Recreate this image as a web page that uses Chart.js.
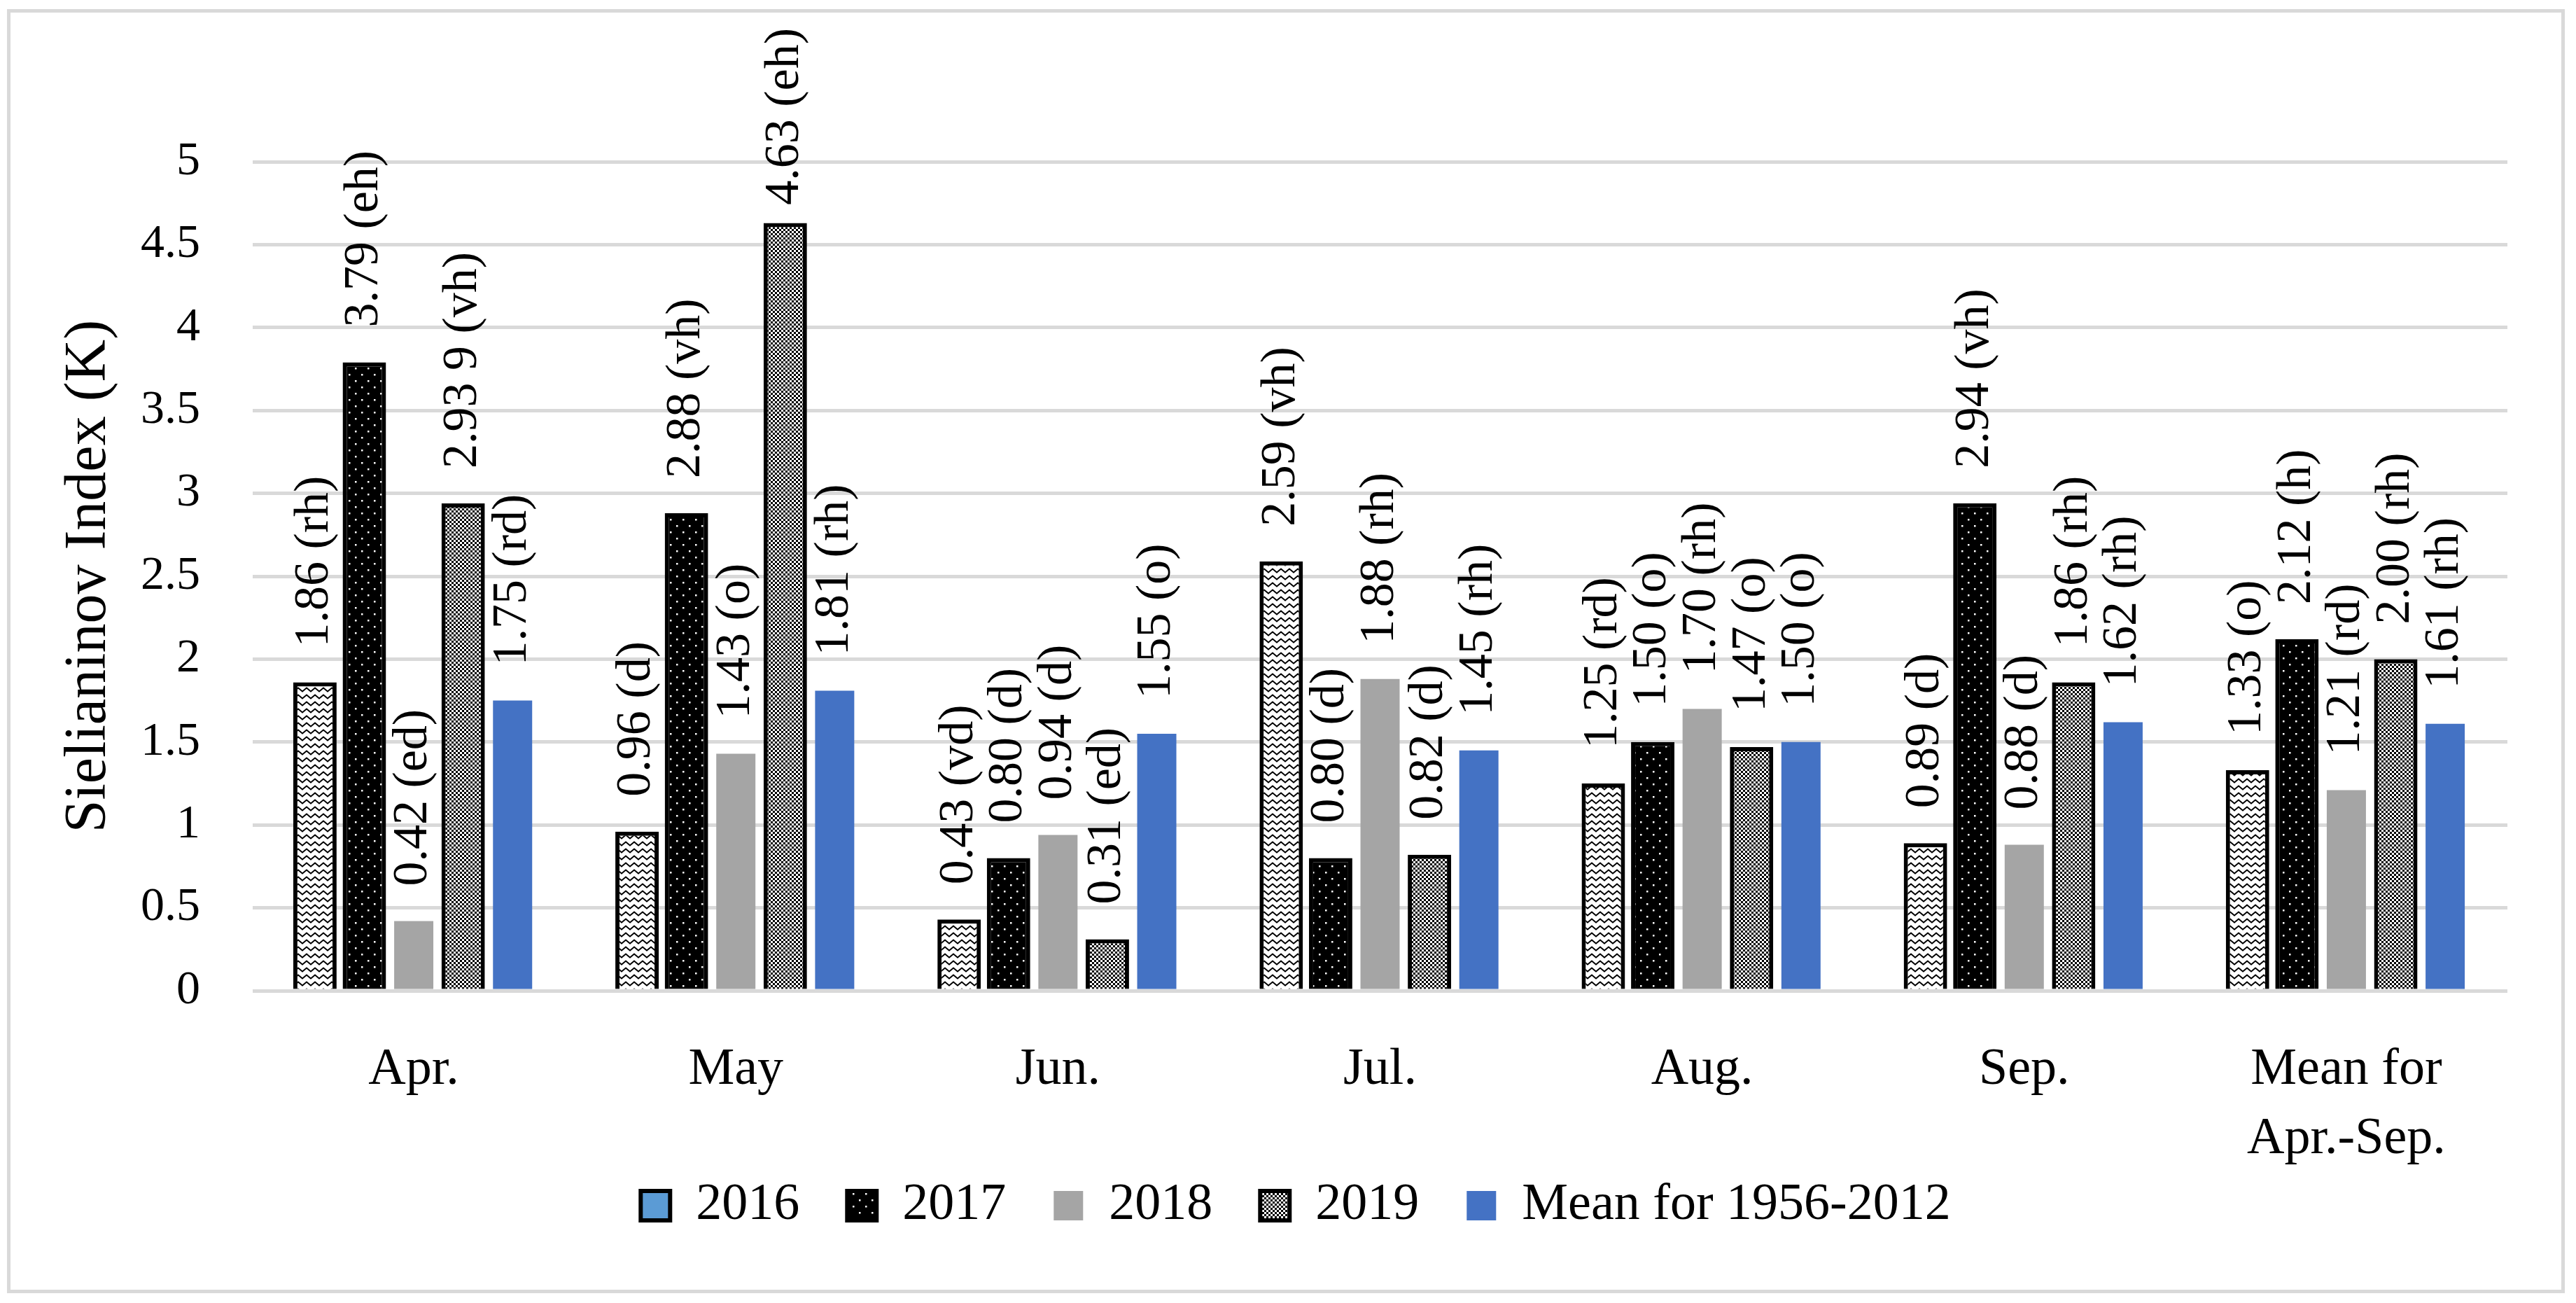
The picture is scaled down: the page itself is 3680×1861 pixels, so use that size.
<!DOCTYPE html>
<html>
<head>
<meta charset="utf-8">
<title>Sielianinov Index</title>
<script src="https://cdn.jsdelivr.net/npm/chart.js@4.4.1/dist/chart.umd.min.js"></script>
<style>
  html, body { margin: 0; padding: 0; background: #fff; }
  #wrap { position: relative; width: 3680px; height: 1861px; }
</style>
</head>
<body>
<div id="wrap"><canvas id="siChart"></canvas></div>
<script>
// Datos
const categories = ['Apr.', 'May', 'Jun.', 'Jul.', 'Aug.', 'Sep.', ['Mean for', 'Apr.-Sep.']];
const seriesNames = ['2016', '2017', '2018', '2019', 'Mean for 1956-2012'];

const values2016 = [1.86, 0.96, 0.43, 2.59, 1.25, 0.89, 1.33];
const values2017 = [3.79, 2.88, 0.80, 0.80, 1.50, 2.94, 2.12];
const values2018 = [0.42, 1.43, 0.94, 1.88, 1.70, 0.88, 1.21];
const values2019 = [2.939, 4.63, 0.31, 0.82, 1.47, 1.86, 2.00];
const valuesMean = [1.75, 1.81, 1.55, 1.45, 1.50, 1.62, 1.61];

const labels2016 = ['1.86 (rh)', '0.96 (d)', '0.43 (vd)', '2.59 (vh)', '1.25 (rd)', '0.89 (d)', '1.33 (o)'];
const labels2017 = ['3.79 (eh)', '2.88 (vh)', '0.80 (d)', '0.80 (d)', '1.50 (o)', '2.94 (vh)', '2.12 (h)'];
const labels2018 = ['0.42 (ed)', '1.43 (o)', '0.94 (d)', '1.88 (rh)', '1.70 (rh)', '0.88 (d)', '1.21 (rd)'];
const labels2019 = ['2.93 9 (vh)', '4.63 (eh)', '0.31 (ed)', '0.82 (d)', '1.47 (o)', '1.86 (rh)', '2.00 (rh)'];
const labelsMean = ['1.75 (rd)', '1.81 (rh)', '1.55 (o)', '1.45 (rh)', '1.50 (o)', '1.62 (rh)', '1.61 (rh)'];

const yTicks = [0, 0.5, 1, 1.5, 2, 2.5, 3, 3.5, 4, 4.5, 5];

const FONT = '"Liberation Serif", "Times New Roman", serif';

// Tramas tipo Excel
function makePattern(w, h, draw) {
    const c = document.createElement('canvas');
    c.width = w; c.height = h;
    const g = c.getContext('2d');
    draw(g, w, h);
    return g.createPattern(c, 'repeat');
}

const zigzag = makePattern(12, 10, (g, w, h) => {
    g.fillStyle = '#fff'; g.fillRect(0, 0, w, h);
    g.strokeStyle = '#000'; g.lineWidth = 2;
    g.beginPath();
    g.moveTo(-3, 5.5); g.lineTo(0, 7.5); g.lineTo(6, 2.5); g.lineTo(12, 7.5); g.lineTo(15, 5.5);
    g.stroke();
});

const dots = makePattern(18, 18, (g, w, h) => {
    g.fillStyle = '#000'; g.fillRect(0, 0, w, h);
    g.fillStyle = '#fff';
    g.fillRect(3, 3, 2.5, 2.5);
    g.fillRect(12, 12, 2.5, 2.5);
});

const checker = makePattern(6, 6, (g, w, h) => {
    g.fillStyle = '#fff'; g.fillRect(0, 0, w, h);
    g.fillStyle = '#000';
    g.fillRect(0, 0, 3, 3);
    g.fillRect(3, 3, 3, 3);
});

// Etiquetas de datos giradas; como en Excel, no salen por arriba del gráfico
const barLabels = {
    id: 'barLabels',
    afterDatasetsDraw(chart) {
        const ctx = chart.ctx;
        const minTop = 40;
        ctx.save();
        ctx.font = '70px ' + FONT;
        ctx.fillStyle = '#000';
        ctx.textAlign = 'left';
        ctx.textBaseline = 'middle';
        chart.data.datasets.forEach((ds, i) => {
            chart.getDatasetMeta(i).data.forEach((bar, j) => {
                const text = ds.valueLabels[j];
                const len = ctx.measureText(text).width;
                let start = bar.y - 50;
                if (start - len < minTop) start = minTop + len;
                ctx.save();
                ctx.translate(bar.x, start);
                ctx.rotate(-Math.PI / 2);
                ctx.fillText(text, 0, 0);
                ctx.restore();
            });
        });
        ctx.restore();
    }
};

// Marco exterior gris
const outerFrame = {
    id: 'outerFrame',
    beforeDraw(chart) {
        const ctx = chart.ctx;
        ctx.save();
        ctx.fillStyle = '#fff';
        ctx.fillRect(0, 0, chart.width, chart.height);
        ctx.strokeStyle = '#D9D9D9';
        ctx.lineWidth = 5;
        ctx.strokeRect(12.5, 15.5, 3649, 1829);
        ctx.restore();
    }
};

// deja sitio a la segunda línea de "Mean for Apr.-Sep." (las etiquetas se recortan a la caja del eje)
const labelRoom = {
    id: 'labelRoom',
    afterLayout(chart) {
        chart.scales.x.bottom += 90;
    }
};

const slotPct = 0.767;
const ctx = document.getElementById('siChart').getContext('2d');
const siChart = new Chart(ctx, {
    type: 'bar',
    data: {
        labels: categories,
        datasets: [
            { label: seriesNames[0], data: values2016, valueLabels: labels2016, backgroundColor: zigzag,
              borderColor: '#000', borderWidth: 6, barPercentage: 0.878, categoryPercentage: slotPct },
            { label: seriesNames[1], data: values2017, valueLabels: labels2017, backgroundColor: dots,
              borderColor: '#000', borderWidth: 6, barPercentage: 0.878, categoryPercentage: slotPct },
            { label: seriesNames[2], data: values2018, valueLabels: labels2018, backgroundColor: '#A5A5A5',
              borderWidth: 0, barPercentage: 0.793, categoryPercentage: slotPct },
            { label: seriesNames[3], data: values2019, valueLabels: labels2019, backgroundColor: checker,
              borderColor: '#000', borderWidth: 6, barPercentage: 0.878, categoryPercentage: slotPct },
            { label: seriesNames[4], data: valuesMean, valueLabels: labelsMean, backgroundColor: '#4472C4',
              borderWidth: 0, barPercentage: 0.793, categoryPercentage: slotPct }
        ]
    },
    options: {
        responsive: true,
        maintainAspectRatio: false,
        devicePixelRatio: 1,
        animation: false,
        layout: { padding: { left: 120, right: 98, top: 231, bottom: 92 } },
        scales: {
            x: {
                grid: { display: false },
                border: { display: false },
                ticks: {
                    color: '#000',
                    font: { family: FONT, size: 74, lineHeight: 1.34 },
                    padding: 56,
                    maxRotation: 0,
                    autoSkip: false
                },
                afterFit(scale) { scale.height = 202; }
            },
            y: {
                min: 0,
                max: 5,
                afterBuildTicks(scale) { scale.ticks = yTicks.map(v => ({ value: v })); },
                grid: { color: '#D9D9D9', lineWidth: 5, drawTicks: false },
                border: { display: false },
                ticks: {
                    color: '#000',
                    font: { family: FONT, size: 68 },
                    padding: 75,
                    callback: v => String(v)
                },
                title: {
                    display: true,
                    text: 'Sielianinov Index (K)',
                    color: '#000',
                    font: { family: FONT, size: 84, lineHeight: 0.2 },
                    padding: 0
                },
                afterFit(scale) { scale.width = 241; }
            }
        },
        plugins: {
            tooltip: { enabled: false },
            legend: {
                position: 'bottom',
                labels: {
                    color: '#000',
                    font: { family: FONT, size: 74 },
                    boxWidth: 42,
                    boxHeight: 42,
                    padding: 68,
                    generateLabels(chart) {
                        const items = Chart.defaults.plugins.legend.labels.generateLabels(chart);
                        // Excel muestra 2016 en azul en la leyenda
                        items[0].fillStyle = '#5B9BD5';
                        items[0].strokeStyle = '#000';
                        items[0].lineWidth = 6;
                        return items;
                    }
                }
            }
        }
    },
    plugins: [outerFrame, labelRoom, barLabels]
});
</script>
</body>
</html>
